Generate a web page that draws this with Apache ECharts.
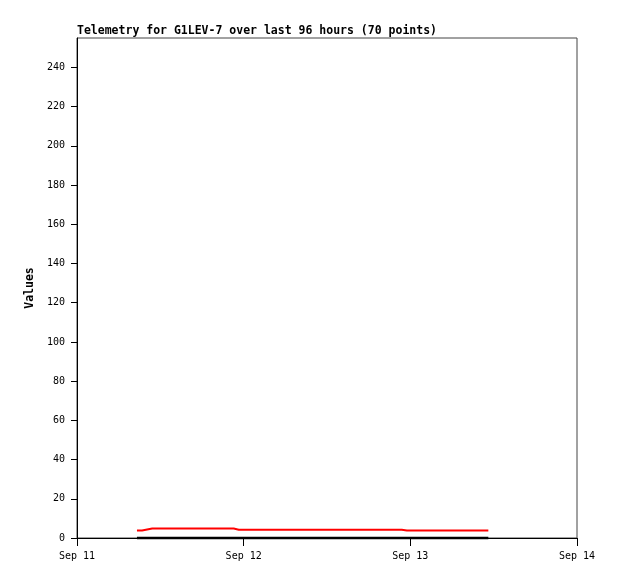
<!DOCTYPE html>
<html>
<head>
<meta charset="utf-8">
<script src="https://cdn.jsdelivr.net/npm/echarts@6/dist/echarts.min.js"></script>
<style>html,body{margin:0;padding:0;background:#fff}#c{width:618px;height:579px}</style>
</head>
<body>
<div id="c"></div>
<script>
const times = [
 '2023-09-11 08:38','2023-09-11 09:22','2023-09-11 10:06','2023-09-11 10:50','2023-09-11 11:34',
 '2023-09-11 12:18','2023-09-11 13:02','2023-09-11 13:46','2023-09-11 14:30','2023-09-11 15:14',
 '2023-09-11 15:58','2023-09-11 16:42','2023-09-11 17:26','2023-09-11 18:10','2023-09-11 18:54',
 '2023-09-11 19:38','2023-09-11 20:22','2023-09-11 21:06','2023-09-11 21:50','2023-09-11 22:34',
 '2023-09-11 23:18','2023-09-12 00:02','2023-09-12 00:46','2023-09-12 01:30','2023-09-12 02:14',
 '2023-09-12 02:58','2023-09-12 03:42','2023-09-12 04:26','2023-09-12 05:10','2023-09-12 05:54',
 '2023-09-12 06:38','2023-09-12 07:22','2023-09-12 08:06','2023-09-12 08:50','2023-09-12 09:34',
 '2023-09-12 10:18','2023-09-12 11:02','2023-09-12 11:46','2023-09-12 12:30','2023-09-12 13:14',
 '2023-09-12 13:58','2023-09-12 14:42','2023-09-12 15:26','2023-09-12 16:10','2023-09-12 16:54',
 '2023-09-12 17:38','2023-09-12 18:22','2023-09-12 19:06','2023-09-12 19:50','2023-09-12 20:34',
 '2023-09-12 21:18','2023-09-12 22:02','2023-09-12 22:46','2023-09-12 23:30','2023-09-13 00:14',
 '2023-09-13 00:58','2023-09-13 01:42','2023-09-13 02:26','2023-09-13 03:10','2023-09-13 03:54',
 '2023-09-13 04:38','2023-09-13 05:22','2023-09-13 06:06','2023-09-13 06:50','2023-09-13 07:34',
 '2023-09-13 08:18','2023-09-13 09:02','2023-09-13 09:46','2023-09-13 10:30','2023-09-13 11:14'
];
const redValues = [
 3.8,3.8,4.3,4.8,4.8, 4.8,4.8,4.8,4.8,4.8, 4.8,4.8,4.8,4.8,4.8, 4.8,4.8,4.8,4.8,4.8,
 4.2,4.2,4.2,4.2,4.2, 4.2,4.2,4.2,4.2,4.2, 4.2,4.2,4.2,4.2,4.2, 4.2,4.2,4.2,4.2,4.2,
 4.2,4.2,4.2,4.2,4.2, 4.2,4.2,4.2,4.2,4.2, 4.2,4.2,4.2,
 3.8,3.8,3.8,3.8,3.8, 3.8,3.8,3.8,3.8,3.8, 3.8,3.8,3.8,3.8,3.8, 3.8,3.8,3.8
];
const blackValues = [
 0,0,0,0,0, 0,0,0,0,0, 0,0,0,0,0, 0,0,0,0,0,
 0,0,0,0,0, 0,0,0,0,0, 0,0,0,0,0, 0,0,0,0,0,
 0,0,0,0,0, 0,0,0,0,0, 0,0,0,0,0, 0,0,0,0,0,
 0,0,0,0,0, 0,0,0,0,0
];
const xMinDate = '2023-09-11 00:00';
const xMaxDate = '2023-09-14 00:00';
const titleText = 'Telemetry for G1LEV-7 over last 96 hours (70 points)';
const yName = 'Values';
const monthNames = ['Jan','Feb','Mar','Apr','May','Jun','Jul','Aug','Sep','Oct','Nov','Dec'];

function toMs(s) { return Date.parse(s.replace(' ', 'T') + ':00Z'); }
const DAY = 86400000;

const mono = 'DejaVu Sans Mono';
const chart = echarts.init(document.getElementById('c'), null, {renderer: 'canvas'});
chart.setOption({
  animation: false,
  backgroundColor: '#fff',
  title: {
    text: titleText, left: 72, top: 20,
    textStyle: {fontFamily: mono, fontWeight: 'bold', fontSize: 11.5, color: '#000'}
  },
  grid: {left: 77, right: 41, top: 38, bottom: 41, show: true, borderColor: '#444', borderWidth: 1, backgroundColor: 'transparent'},
  xAxis: {
    type: 'value',
    min: toMs(xMinDate),
    max: toMs(xMaxDate),
    interval: DAY,
    splitLine: {show: false},
    axisLine: {show: true, onZero: false, lineStyle: {color: '#000', width: 1}},
    axisTick: {show: true, length: 8, lineStyle: {color: '#000'}},
    axisLabel: {
      fontFamily: mono, fontSize: 10, color: '#000', margin: 13,
      formatter: function (v) {
        const d = new Date(v);
        return monthNames[d.getUTCMonth()] + ' ' + d.getUTCDate();
      },
      showMinLabel: true, showMaxLabel: true
    }
  },
  yAxis: {
    type: 'value', min: 0, max: 255, interval: 20,
    name: yName, nameLocation: 'middle', nameGap: 39, nameRotate: 90,
    nameTextStyle: {fontFamily: mono, fontWeight: 'bold', fontSize: 11.5, color: '#000'},
    splitLine: {show: false},
    axisLine: {show: true, lineStyle: {color: '#000', width: 1}},
    axisTick: {show: true, length: 6, lineStyle: {color: '#000'}},
    axisLabel: {fontFamily: mono, fontSize: 10, color: '#000', margin: 12, showMaxLabel: false}
  },
  series: [
    {type: 'line', clip: false, z: 5, data: times.map((t, i) => [toMs(t), blackValues[i]]), showSymbol: false, lineStyle: {color: '#000', width: 2.5}, itemStyle: {color: '#000'}},
    {type: 'line', z: 6, data: times.map((t, i) => [toMs(t), redValues[i]]), showSymbol: false, lineStyle: {color: '#ff0000', width: 2}, itemStyle: {color: '#ff0000'}}
  ]
});
</script>
</body>
</html>
